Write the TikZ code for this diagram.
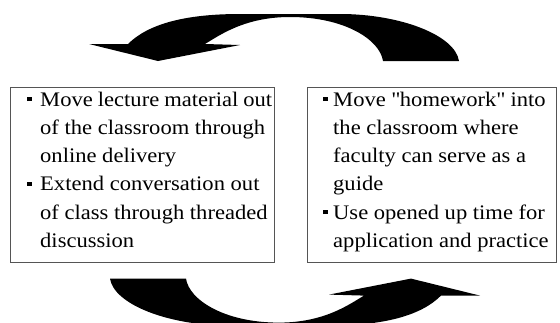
\documentclass[tikz,border=0pt]{standalone}
\usepackage{fontspec}
\setmainfont{Liberation Serif}[FakeStretch=1.09]
\begin{document}
\begin{tikzpicture}[x=1pt,y=-1pt,
  box/.style={draw={rgb,255:red,85;green,85;blue,85}, line width=1.3pt, fill=white, inner sep=0pt, anchor=north west},
  txt/.style={anchor=base west, inner sep=0pt},
  bigarrow/.style={fill=black, draw=none}]
\clip (0,0) rectangle (560,322);
\useasboundingbox (0,0) rectangle (560,322);
\def\cyclearrowshape{(89,44) -- (128,44)
  .. controls (148,24) and (185,14) .. (240,14)
  -- (340,14)
  .. controls (400,14) and (455,35) .. (459,61)
  -- (383,61)
  .. controls (380,40) and (345,17) .. (290,17)
  .. controls (245,17) and (220,35) .. (205,44)
  -- (240,45) -- (158,61) -- cycle}
% top arrow (right to left)
\fill[bigarrow] \cyclearrowshape;
% bottom arrow (left to right), same shape turned half round
\begin{scope}[rotate around={180:(284.5,169.8)}]
\fill[bigarrow] \cyclearrowshape;
\end{scope}
% boxes
\node[box, minimum width=264pt, minimum height=175pt] (L) at (10,87) {};
\node[box, minimum width=249pt, minimum height=175pt] (R) at (307,87) {};
\newcommand{\sqbul}{\rule[5pt]{4.3pt}{4.3pt}}
\node[txt] (Ltext) at (27,106) {\begin{minipage}[t]{245pt}\fontsize{20.7}{28.3}\selectfont\raggedright
\makebox[13pt][l]{\sqbul}Move lecture material out\\
\hspace*{13pt}of the classroom through\\
\hspace*{13pt}online delivery\\
\makebox[13pt][l]{\sqbul}Extend conversation out\\
\hspace*{13pt}of class through threaded\\
\hspace*{13pt}discussion
\end{minipage}};
\node[txt] (Rtext) at (323,106) {\begin{minipage}[t]{232pt}\fontsize{20.7}{28.3}\selectfont\raggedright
\makebox[10pt][l]{\sqbul}Move \textquotedbl homework\textquotedbl{} into\\
\hspace*{10pt}the classroom where\\
\hspace*{10pt}faculty can serve as a\\
\hspace*{10pt}guide\\
\makebox[10pt][l]{\sqbul}Use opened up time for\\
\hspace*{10pt}application and practice
\end{minipage}};
\end{tikzpicture}
\end{document}
